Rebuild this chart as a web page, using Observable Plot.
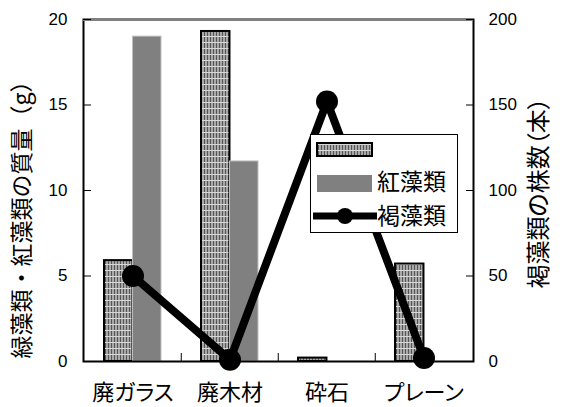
<!DOCTYPE html>
<html><head><meta charset="utf-8">
<script src="https://cdn.jsdelivr.net/npm/d3@7"></script>
<script src="https://cdn.jsdelivr.net/npm/@observablehq/plot@0.6"></script>
<style>
body{margin:0;background:#fff}
#chart svg text.jp, #chart svg g.jp text { font-feature-settings: "palt"; }
</style>
</head><body><div id="chart"></div>
<script>
const categories = ["廃ガラス", "廃木材", "砕石", "プレーン"];
const greenMass = [5.9, 19.3, 0.2, 5.7];     // 緑藻類 (g)
const redMass = [19.0, 11.7, 0, 0];          // 紅藻類 (g)
const brownCount = [50, 1, 152, 2];          // 褐藻類 (本)
const leftTicks = [0, 5, 10, 15, 20];
const rightTicks = [0, 50, 100, 150, 200];
const legendLabels = ["", "紅藻類", "褐藻類"];
const leftTitle = "緑藻類・紅藻類の質量（g）";
const rightTitle = "褐藻類の株数（本）";

const W = 563, H = 407, mL = 83, mR = 90, mT = 19, mB = 46;
const ratio = rightTicks[rightTicks.length - 1] / leftTicks[leftTicks.length - 1];
const rows = categories.map((c, i) => ({c, g: greenMass[i], r: redMass[i], b: brownCount[i] / ratio}));
const pad = 0.415;
const step = (W - mL - mR) / categories.length;
const bw = step * (1 - pad);
const numFont = "'Liberation Sans', Arial, sans-serif";
const jpFont = "'Noto Sans CJK JP', sans-serif";

const plot = Plot.plot({
  width: W, height: H, marginLeft: mL, marginRight: mR, marginTop: mT, marginBottom: mB,
  x: {domain: categories, paddingInner: pad, paddingOuter: pad / 2},
  y: {domain: [leftTicks[0], leftTicks[leftTicks.length - 1]]},
  style: {fontFamily: numFont, fontSize: "17px", color: "#000", background: "#fff"},
  marks: [
    Plot.barY(rows.filter(d => d.g > 0), {x: "c", y: "g", insetRight: bw / 2, fill: "url(#hatch)", stroke: "#000", strokeWidth: 2}),
    Plot.barY(rows.filter(d => d.r > 0), {x: "c", y: "r", insetLeft: bw / 2, fill: "#808080", stroke: "#c0c0c0", strokeWidth: 1}),
    Plot.frame({stroke: "#000", strokeWidth: 2}),
    Plot.ruleY([leftTicks[leftTicks.length - 1]], {stroke: "#808080", strokeWidth: 3}),
    Plot.axisY({anchor: "left", ticks: leftTicks, tickSize: -8, text: null, label: null}),
    Plot.axisY({anchor: "right", ticks: leftTicks, tickSize: -8, text: null, label: null}),
    Plot.axisY({anchor: "left", ticks: leftTicks, tickSize: 0, tickPadding: 16, label: null, fontSize: 17}),
    Plot.axisY({anchor: "right", ticks: rightTicks.map(v => v / ratio), tickFormat: d => String(Math.round(d * ratio)), tickSize: 0, tickPadding: 15, label: null, fontSize: 17}),
    Plot.axisX({ticks: categories.slice(1), tickSize: -8, text: null, label: null, dx: -step / 2}),
    Plot.text(categories, {x: d => d, frameAnchor: "bottom", lineAnchor: "middle", dy: 31, fontFamily: jpFont, fontSize: 22, className: "jp"}),
    Plot.line(rows, {x: "c", y: "b", stroke: "#000", strokeWidth: 8}),
    Plot.dot(rows, {x: "c", y: "b", r: 11, fill: "#000"}),
    Plot.text([leftTitle], {frameAnchor: "bottom-left", textAnchor: "start", lineAnchor: "middle", rotate: -90, dx: -61, dy: -3, fontFamily: jpFont, fontSize: 23}),
    Plot.text([rightTitle], {frameAnchor: "bottom-right", textAnchor: "start", lineAnchor: "middle", rotate: -90, dx: 66, dy: -73, fontFamily: jpFont, fontSize: 24, className: "jp"})
  ]
});

const svg = d3.select(plot);
const defs = svg.insert("defs", ":first-child");
const p = defs.append("pattern").attr("id", "hatch").attr("patternUnits", "userSpaceOnUse").attr("width", 3).attr("height", 6);
p.append("rect").attr("width", 3).attr("height", 6).attr("fill", "#a8a8a8");
p.append("rect").attr("width", 1).attr("height", 6).attr("fill", "#555");
p.append("rect").attr("width", 3).attr("height", 1).attr("fill", "#d8d8d8");

// legend
const lg = svg.append("g");
lg.append("rect").attr("x", 310.5).attr("y", 134.5).attr("width", 147).attr("height", 98).attr("fill", "#fff").attr("stroke", "#000");
lg.append("rect").attr("x", 317).attr("y", 143).attr("width", 55).attr("height", 13).attr("fill", "url(#hatch)").attr("stroke", "#000").attr("stroke-width", 2);
lg.append("rect").attr("x", 317).attr("y", 175).attr("width", 55).attr("height", 17).attr("fill", "#808080");
lg.append("line").attr("x1", 313).attr("x2", 377).attr("y1", 216).attr("y2", 216).attr("stroke", "#000").attr("stroke-width", 7);
lg.append("circle").attr("cx", 345).attr("cy", 216).attr("r", 8).attr("fill", "#000");
const ly = [149, 182, 216];
legendLabels.forEach((t, i) => {
  if (!t) return;
  lg.append("text").attr("class", "jp").attr("x", 377).attr("y", ly[i]).attr("dy", "0.35em")
    .attr("text-anchor", "start").attr("font-family", jpFont).attr("font-size", 23).attr("fill", "#000").text(t);
});

document.getElementById("chart").appendChild(plot);
</script>
</body></html>
